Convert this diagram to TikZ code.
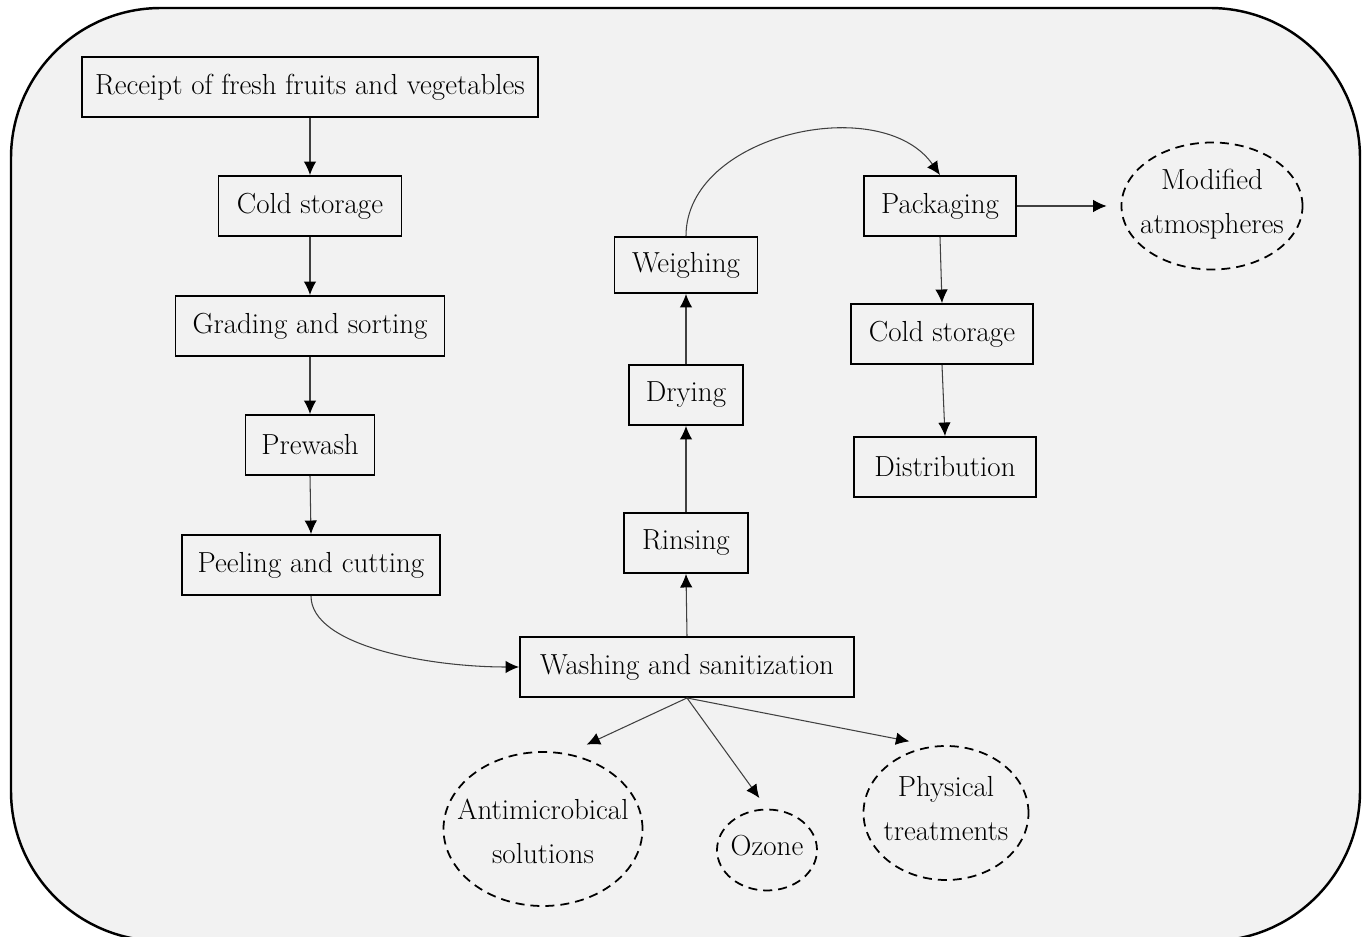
\documentclass[tikz,border=0pt]{standalone}
\usepackage{tikz}
\usetikzlibrary{arrows.meta, shapes.geometric}
\definecolor{panel}{HTML}{F2F2F2}
\newcommand{\twoline}[2][-0.8mm]{\smash{\raisebox{#1}{\makebox[0pt]{\begin{tabular}{@{}c@{}}#2\end{tabular}}}}}

\begin{document}
\begin{tikzpicture}[x=0.2mm, y=-0.2mm, font=\fontsize{16.5}{25}\selectfont,
  stage/.style={draw, line width=1.1pt, minimum height=12mm, inner sep=2pt},
  option/.style={draw, ellipse, line width=1pt, inner sep=0pt, dash pattern=on 1.8mm off 1.2mm},
  flow/.style={-{Latex[length=2.7mm, width=2.5mm, color=black]}, draw=black!75, line width=0.6pt}]
        \useasboundingbox (0,0) rectangle (1365,937);
        \begin{scope}
        \clip (0,0) rectangle (1365,937);
        \draw[line width=1.4pt, fill=panel, rounded corners=30mm] (11,8) rectangle (1360,941);
        \end{scope}
        % left column
        \node[stage, minimum width=91.2mm] (receipt) at (310,87) {Receipt of fresh fruits and vegetables};
        \node[stage, minimum width=36.6mm] (cold1) at (310,206) {Cold storage};
        \node[stage, minimum width=53.8mm] (grading) at (310,326) {Grading and sorting};
        \node[stage, minimum width=25.8mm] (prewash) at (310,445) {Prewash};
        \node[stage, minimum width=51.6mm] (peeling) at (311,565) {Peeling and cutting};
        % middle column
        \node[stage, minimum width=66.8mm] (washing) at (687,667) {Washing and sanitization};
        \node[stage, minimum width=24.8mm] (rinsing) at (686,543) {Rinsing};
        \node[stage, minimum width=22.8mm] (drying) at (686,395) {Drying};
        \node[stage, minimum width=28.6mm, minimum height=11.2mm] (weighing) at (686,265) {Weighing};
        % right column
        \node[stage, minimum width=30.4mm] (packaging) at (940,206) {Packaging};
        \node[stage, minimum width=36.4mm] (cold2) at (942,334) {Cold storage};
        \node[stage, minimum width=36.4mm] (distribution) at (945,467) {Distribution};
        % treatments
        \node[option, minimum width=36.2mm, minimum height=25.4mm] (modified) at (1212,206) {\twoline{Modified\\atmospheres}};
        \node[option, minimum width=39.8mm, minimum height=30.8mm] (antimicro) at (543,829) {\twoline[-2.2mm]{Antimicrobical\\solutions}};
        \node[option, minimum width=20mm, minimum height=16.2mm] (ozone) at (767,850) {\twoline{Ozone}};
        \node[option, minimum width=33mm, minimum height=26.8mm] (physical) at (946,813) {\twoline{Physical\\treatments}};
        % connectors
        \foreach \a/\b in {receipt/cold1, cold1/grading, grading/prewash, prewash/peeling, packaging/cold2, cold2/distribution}
        \draw[flow] (\a.south) -- (\b.north);
        \foreach \a/\b in {washing/rinsing, rinsing/drying, drying/weighing}
        \draw[flow] (\a.north) -- (\b.south);
        \draw[flow] (peeling.south) .. controls +(0,50) and +(-90,0) .. (washing.west);
        \draw[flow] (weighing.north) to[out=90, in=125] (packaging.north);
        \draw[flow, shorten >=2.8mm] (packaging.east) -- (modified.west);
        \draw[flow, shorten >=4.2mm] (washing.south) -- (antimicro.72);
        \draw[flow, shorten >=2.6mm] (washing.south) -- (ozone.north);
        \draw[flow, shorten >=4.8mm] (washing.south) -- (physical.101);
\end{tikzpicture}
\end{document}
